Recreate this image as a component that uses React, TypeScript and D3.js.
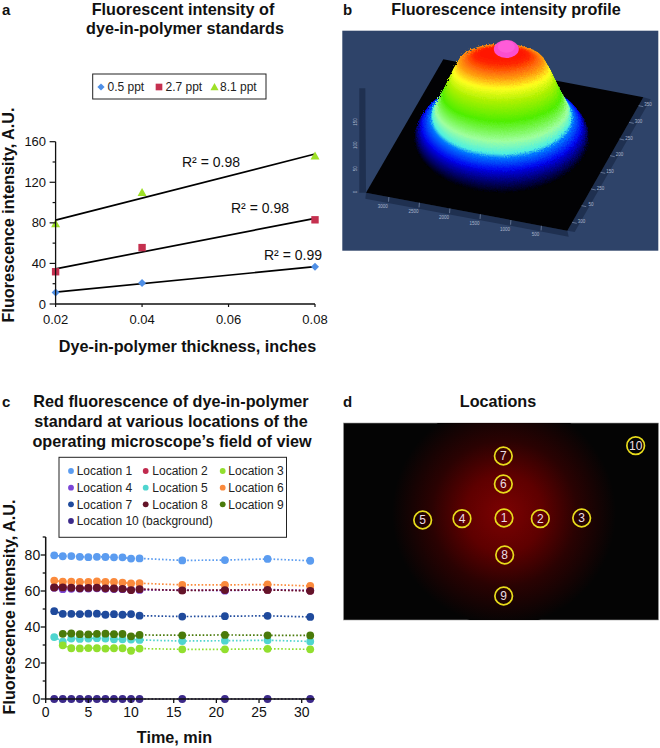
import React from "react";
import * as d3 from "d3";

const FONT = "'Liberation Sans', Arial, sans-serif";
const TITLE = 16.2;

// Panel a data
const thickness = [0.02, 0.04, 0.08];
const ppt05 = [11.3, 20.6, 36.6];
const ppt27 = [31.8, 55.6, 83];
const ppt81 = [79, 110, 146];
const aYTicks = [0, 40, 80, 120, 160];
const aYMinor = [20, 60, 100, 140];
const aXTicks = [0.02, 0.04, 0.06, 0.08];
const r2Labels = ["R² = 0.99", "R² = 0.98", "R² = 0.98"];

// Panel c data
const times = [1, 2, 3, 4, 5, 6, 7, 8, 9, 10, 11, 16, 21, 26, 31];
const loc1 = [79.8, 79.3, 79.4, 79, 78.8, 79, 78.9, 78.7, 78.7, 78, 78.1, 77, 77.2, 77.8, 76.8];
const loc2 = [62, 62.5, 61.9, 61.6, 61.7, 61.9, 61.5, 61.4, 61.2, 60.6, 61, 60.4, 60.5, 60.6, 60.2];
const loc3 = [null, 29.8, 28.2, 28.1, 28.3, 28.2, 28, 28.2, 28.2, 26.8, 28, 27.6, 27.6, 27.9, 27.6];
const loc4 = [61.8, 61, 61.2, 61.3, 61.4, 61.5, 61.2, 61.1, 61, 60.8, 60.6, 60.5, 60.2, 60.8, 60.3];
const loc5 = [34.4, 31.8, 33.6, 33.4, 33.6, 33.8, 33.6, 33.2, 33.2, 33, 32.8, 32.2, 32.4, 32.6, 32];
const loc6 = [65.8, 65.2, 65.2, 65, 65, 65.3, 65, 65, 64.7, 64.2, 64.3, 63.4, 63.4, 63.6, 62.8];
const loc7 = [48.8, 47.3, 47.3, 47.2, 47.4, 47.4, 46.8, 47.1, 46.8, 47.2, 46.3, 45.8, 46, 46.2, 45.6];
const loc8 = [62, 62, 61.8, 61.5, 61.7, 61.8, 61.5, 61.4, 61.2, 60.5, 61, 60.3, 60.5, 60.6, 60.1];
const loc9 = [null, 36.2, 36.4, 36, 35.9, 36.2, 36.3, 36, 36.1, 34.8, 35.6, 35.4, 35.6, 35.4, 35.3];
const loc10 = [0, 0, 0, 0, 0, 0, 0, 0, 0, 0, 0, 0, 0, 0, 0];
const locNames = ["Location 1", "Location 2", "Location 3", "Location 4", "Location 5", "Location 6", "Location 7", "Location 8", "Location 9", "Location 10 (background)"];
const locValues = [loc1, loc2, loc3, loc4, loc5, loc6, loc7, loc8, loc9, loc10];
const locColors = ["#5b9cf0", "#c02a4e", "#92df2e", "#7a45d6", "#4fd5cf", "#fb8a3c", "#1f4a9c", "#641428", "#4a7a0a", "#3c2a8a"];
const locDrawOrder = [0, 1, 3, 4, 2, 5, 6, 7, 8, 9];
const cYTicks = [0, 20, 40, 60, 80];
const cYMinor = [10, 30, 50, 70, 90];
const cXTicks = [0, 5, 10, 15, 20, 25, 30];

// Panel b: dome profile
const domeLevels = [0, 0.08, 0.18, 0.3, 0.36, 0.45, 0.6, 0.72, 0.78, 0.84, 0.92, 1];
const domeRx = [262, 255, 240, 215, 208, 198, 178, 160, 145, 128, 85, 60];
const domeFront = [578, 548, 510, 475, 462, 425, 365, 310, 268, 238, 195, 175];
const domeRy = [165, 150, 135, 120, 115, 100, 80, 65, 55, 53, 28, 15];
const domeColors = ["#00000c", "#00006a", "#0008f0", "#0078ff", "#50f0e0", "#a0ffa0", "#50ee00", "#a8f000", "#ffff20", "#ff9a10", "#ff2800", "#ff1500"];
const bBottomLabels = ["3000", "2500", "2000", "1500", "1000", "500"];
const bRightLabels = ["300", "50", "250", "150", "200", "250", "300", "350"];
const bLeftLabels = ["150", "100", "50", "0"];

// Panel d: locations (ring number and position in the image)
const ringIds = [1, 2, 3, 4, 5, 6, 7, 8, 9, 10];
const ringX = [522, 631, 755, 396, 278, 520, 520, 524, 521, 917];
const ringY = [384, 386, 384, 386, 390, 282, 198, 495, 618, 167];

const fit = (xs: number[], ys: number[]) => {
  const mx = d3.mean(xs)!, my = d3.mean(ys)!;
  const sxy = d3.sum(xs, (x, i) => (x - mx) * (ys[i] - my));
  const sxx = d3.sum(xs, (x) => (x - mx) ** 2);
  const m = sxy / sxx;
  return (x: number) => my + m * (x - mx);
};

const Text = (p: any) => <text fontFamily={FONT} fill="#111" {...p} />;

const PanelA = () => {
  const x = d3.scaleLinear().domain([0.02, 0.08]).range([55.6, 315]);
  const y = d3.scaleLinear().domain([0, 160]).range([304, 141.7]);
  const series = [
    { v: ppt05, c: "#4f8fe6" },
    { v: ppt27, c: "#c5304f" },
    { v: ppt81, c: "#9ee027" },
  ];
  const labelPos = [[293, 260], [260, 213], [211, 167]];
  const marker = (i: number, cx: number, cy: number, s = 1) => {
    if (i === 0) return <path d={`M${cx},${cy - 4 * s}L${cx + 4 * s},${cy}L${cx},${cy + 4 * s}L${cx - 4 * s},${cy}Z`} fill={series[0].c} />;
    if (i === 1) return <rect x={cx - 3.7 * s} y={cy - 3.7 * s} width={7.4 * s} height={7.4 * s} fill={series[1].c} />;
    return <path d={`M${cx},${cy - 4.5 * s}L${cx + 4.5 * s},${cy + 3.5 * s}L${cx - 4.5 * s},${cy + 3.5 * s}Z`} fill={series[2].c} />;
  };
  return (
    <g>
      <Text x={183} y={14.5} textAnchor="middle" fontWeight="bold" fontSize={TITLE}>Fluorescent intensity of</Text>
      <Text x={185} y={34} textAnchor="middle" fontWeight="bold" fontSize={TITLE}>dye-in-polymer standards</Text>
      <rect x={92.7} y={74} width={173.3} height={25} fill="#fff" stroke="#222" strokeWidth={1} />
      {["0.5 ppt", "2.7 ppt", "8.1 ppt"].map((t, i) => (
        <g key={t}>
          {marker(i, [101, 159, 214.5][i], 87, 0.9)}
          <Text x={[107.5, 165.5, 220][i]} y={91} fontSize={12} fill="#222">{t}</Text>
        </g>
      ))}
      {series.map((s, i) => {
        const f = fit(thickness, s.v);
        return (
          <g key={i}>
            <line x1={x(0.02)} x2={x(0.08)} y1={y(f(0.02))} y2={y(f(0.08))} stroke="#000" strokeWidth={1.7} />
            {thickness.map((t, j) => <g key={j}>{marker(i, x(t), y(s.v[j]))}</g>)}
            <Text x={labelPos[i][0]} y={labelPos[i][1]} textAnchor="middle" fontSize={14}>{r2Labels[i]}</Text>
          </g>
        );
      })}
      <path d={`M${x(0.02)},${y(160)}V${y(0)}H${x(0.08)}`} fill="none" stroke="#111" strokeWidth={1.3} />
      {aYTicks.map((t) => (
        <g key={t}>
          <line x1={x(0.02) - 6} x2={x(0.02)} y1={y(t)} y2={y(t)} stroke="#111" strokeWidth={1.2} />
          <Text x={x(0.02) - 9.5} y={y(t) + 4.6} textAnchor="end" fontSize={13}>{t}</Text>
        </g>
      ))}
      {aYMinor.map((t) => <line key={t} x1={x(0.02) - 3} x2={x(0.02)} y1={y(t)} y2={y(t)} stroke="#111" strokeWidth={1.2} />)}
      {aXTicks.map((t) => (
        <g key={t}>
          <line x1={x(t)} x2={x(t)} y1={y(0)} y2={y(0) + 3} stroke="#111" strokeWidth={1.2} />
          <Text x={x(t)} y={323.5} textAnchor="middle" fontSize={13}>{t.toFixed(2)}</Text>
        </g>
      ))}
      <Text x={187.5} y={352} textAnchor="middle" fontWeight="bold" fontSize={TITLE}>Dye-in-polymer thickness, inches</Text>
      <Text transform="translate(13.5,215) rotate(-90)" textAnchor="middle" fontWeight="bold" fontSize={TITLE}>Fluorescence intensity, A.U.</Text>
    </g>
  );
};

const PanelB = () => {
  const px = (z: number) => 330 + z / 3;
  const py = (z: number) => z / 3;
  const lv = (arr: number[]) => d3.scaleLinear<number>().domain(domeLevels).range(arr);
  const rx = lv(domeRx), front = lv(domeFront), ry = lv(domeRy);
  const col = d3.scaleLinear<string>().domain(domeLevels).range(domeColors).interpolate(d3.interpolateRgb);
  const steps = d3.range(0, 1.0001, 0.008);
  const A = [340, 178], B = [940, 292], C = [712, 692], D = [108, 578];
  const poly = (pts: number[][]) => pts.map((p) => `${px(p[0])},${py(p[1])}`).join(" ");
  const lerp = (a: number[], b: number[], t: number) => [a[0] + (b[0] - a[0]) * t, a[1] + (b[1] - a[1]) * t];
  return (
    <g>
      <Text x={506} y={14.5} textAnchor="middle" fontWeight="bold" fontSize={TITLE}>Fluorescence intensity profile</Text>
      <rect x={342.3} y={30.7} width={316} height={220} fill="#2e4369" />
      <polygon points={poly([D, C, [C[0] + 4, C[1] + 18], [D[0] - 2, D[1] + 18]])} fill="#1f3050" />
      <polygon points={poly([B, C, [C[0] + 22, C[1] + 4], [B[0] + 22, B[1] + 6]])} fill="#1f3050" />
      <polygon points={poly([[88, 265], [106, 265], [108, 578], [88, 578]])} fill="#1f3050" />
      <polygon points={poly([A, B, C, D])} fill="#020204" />
      {bBottomLabels.map((t, i) => {
        const p = lerp(D, C, (i + 0.75) / 6.6);
        return (
          <g key={t}>
            <line x1={px(p[0])} y1={py(p[1])} x2={px(p[0] - 1)} y2={py(p[1] + 14)} stroke="#8fa0bd" strokeWidth={0.6} />
            <Text x={px(p[0] - 18)} y={py(p[1] + 32)} fontSize={4.5} fill="#aab6cc" textAnchor="middle">{t}</Text>
          </g>
        );
      })}
      {bRightLabels.map((t, i) => {
        const p = lerp(C, B, (i + 0.5) / 8);
        return (
          <g key={i}>
            <line x1={px(p[0])} y1={py(p[1])} x2={px(p[0] + 14)} y2={py(p[1] + 3)} stroke="#8fa0bd" strokeWidth={0.6} />
            <Text x={px(p[0] + 28)} y={py(p[1] + 2)} fontSize={4.5} fill="#aab6cc" textAnchor="middle">{t}</Text>
          </g>
        );
      })}
      {bLeftLabels.map((t, i) => (
        <Text key={t} transform={`translate(${px(80)},${py(366 + i * 70)}) rotate(-90)`} fontSize={4.5} fill="#aab6cc" textAnchor="middle">{t}</Text>
      ))}
      <g filter="url(#jag)">
        {steps.map((t) => (
          <ellipse key={t} cx={px(515)} cy={py(front(t) - ry(t))} rx={rx(t) / 3} ry={ry(t) / 3} fill={col(t)} />
        ))}
      </g>
      <ellipse cx={px(526)} cy={py(160)} rx={13} ry={10} fill="url(#capGlow)" />
      <ellipse cx={px(529)} cy={py(147)} rx={12.5} ry={9} fill="#fb4fcf" />
      <ellipse cx={px(529)} cy={py(140)} rx={8.5} ry={6} fill="#ff5cd8" />
    </g>
  );
};

const PanelC = () => {
  const x = d3.scaleLinear().domain([0, 30]).range([45.7, 301.7]);
  const y = d3.scaleLinear().domain([0, 90]).range([699, 537]);
  const line = d3.line<[number, number | null]>()
    .defined((d) => d[1] !== null)
    .x((d) => x(d[0]))
    .y((d) => y(d[1] as number));
  const dotX = [71, 145.7, 222.7];
  const textX = [76.7, 152.3, 228.3];
  const rowY = [471, 487.7, 504.3, 521];
  return (
    <g>
      <Text x={171} y={407} textAnchor="middle" fontWeight="bold" fontSize={TITLE}>Red fluorescence of dye-in-polymer</Text>
      <Text x={171} y={427} textAnchor="middle" fontWeight="bold" fontSize={TITLE}>standard at various locations of the</Text>
      <Text x={172} y={446.5} textAnchor="middle" fontWeight="bold" fontSize={TITLE}>operating microscope’s field of view</Text>
      {locDrawOrder.map((i) => (
        <g key={i}>
          <path d={line(times.map((t, j) => [t, locValues[i][j]] as [number, number | null])) || ""} fill="none" stroke={locColors[i]} strokeWidth={1.7} strokeDasharray="1.6 2" />
          {times.map((t, j) => locValues[i][j] === null ? null : (
            <circle key={t} cx={x(t)} cy={y(locValues[i][j] as number)} r={3.9} fill={locColors[i]} />
          ))}
        </g>
      ))}
      <rect x={59} y={457.3} width={227.5} height={80} fill="#fff" stroke="#222" strokeWidth={1} />
      {locNames.map((n, i) => {
        const col = i === 9 ? 0 : i % 3;
        const row = Math.floor(i / 3);
        return (
          <g key={n}>
            <circle cx={dotX[col]} cy={rowY[row]} r={2.9} fill={locColors[i]} />
            <Text x={textX[col]} y={rowY[row] + 4.2} fontSize={12} fill="#222">{n}</Text>
          </g>
        );
      })}
      <path d={`M${x(0)},${y(90)}V${y(0)}H${x(30) + 13}`} fill="none" stroke="#111" strokeWidth={1.5} />
      {cYTicks.map((t) => (
        <g key={t}>
          <line x1={x(0) - 5} x2={x(0)} y1={y(t)} y2={y(t)} stroke="#111" strokeWidth={1.3} />
          <Text x={x(0) - 5.5} y={y(t) + 5} textAnchor="end" fontSize={14}>{t}</Text>
        </g>
      ))}
      {cYMinor.map((t) => <line key={t} x1={x(0) - 3} x2={x(0)} y1={y(t)} y2={y(t)} stroke="#111" strokeWidth={1.3} />)}
      {cXTicks.map((t) => (
        <g key={t}>
          <line x1={x(t)} x2={x(t)} y1={y(0)} y2={y(0) + 4} stroke="#111" strokeWidth={1.3} />
          <Text x={x(t)} y={717} textAnchor="middle" fontSize={14}>{t}</Text>
        </g>
      ))}
      <Text x={174.5} y={743} textAnchor="middle" fontWeight="bold" fontSize={TITLE}>Time, min</Text>
      <Text transform="translate(15,607) rotate(-90)" textAnchor="middle" fontWeight="bold" fontSize={TITLE}>Fluorescence intensity, A.U.</Text>
    </g>
  );
};

const PanelD = () => {
  const px = (z: number) => 330 + z / 3;
  const py = (z: number) => 390 + z / 3;
  return (
    <g>
      <Text x={498} y={407} textAnchor="middle" fontWeight="bold" fontSize={TITLE}>Locations</Text>
      <rect x={343.5} y={423} width={315} height={197} fill="#040404" stroke="#999" strokeWidth={0.6} />
      <clipPath id="dclip"><rect x={343.5} y={423} width={315} height={197} /></clipPath>
      <circle cx={px(522)} cy={py(370)} r={112} fill="url(#redGlow)" clipPath="url(#dclip)" />
      {ringIds.map((id, i) => (
        <g key={id}>
          <circle cx={px(ringX[i])} cy={py(ringY[i])} r={8.8} fill="none" stroke="#e8dc1c" strokeWidth={1.7} />
          <Text x={px(ringX[i])} y={py(ringY[i]) + 4.2} textAnchor="middle" fontSize={12} fill="#ecdfe4">{id}</Text>
        </g>
      ))}
    </g>
  );
};

export default function App() {
  return (
    <svg width={660} height={748} style={{ position: "absolute", left: 0, top: 0, background: "#fff" }}>
      <defs>
        <filter id="jag" x="-5%" y="-5%" width="110%" height="110%">
          <feTurbulence type="fractalNoise" baseFrequency="0.7" numOctaves={2} seed={3} />
          <feDisplacementMap in="SourceGraphic" scale={3.5} />
          <feGaussianBlur stdDeviation={0.4} />
        </filter>
        <radialGradient id="redGlow">
          <stop offset="0%" stopColor="#7c0202" />
          <stop offset="35%" stopColor="#5e0000" />
          <stop offset="65%" stopColor="#2a0202" />
          <stop offset="100%" stopColor="#040404" />
        </radialGradient>
        <radialGradient id="capGlow">
          <stop offset="0%" stopColor="#ff1000" />
          <stop offset="100%" stopColor="#ff2800" stopOpacity={0} />
        </radialGradient>
      </defs>
      <PanelA />
      <PanelB />
      <PanelC />
      <PanelD />
      {[["a", 2, 14.5], ["b", 343, 14.5], ["c", 2, 407], ["d", 343, 407]].map(([t, x, y]) => (
        <Text key={t as string} x={x} y={y} fontWeight="bold" fontSize={15}>{t}</Text>
      ))}
    </svg>
  );
}
